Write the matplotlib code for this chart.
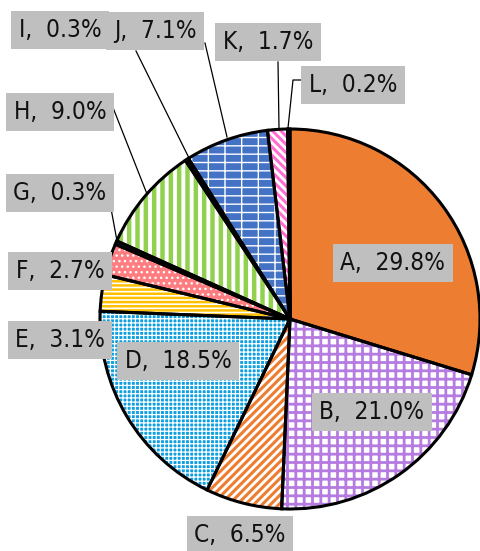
import matplotlib
matplotlib.use("Agg")
import matplotlib.pyplot as plt

# ---- data ----
categories = ["A", "B", "C", "D", "E", "F", "G", "H", "I", "J", "K", "L"]
values = [29.8, 21.0, 6.5, 18.5, 3.1, 2.7, 0.3, 9.0, 0.3, 7.1, 1.7, 0.2]
labels = [f"{c},  {v:.1f}%" for c, v in zip(categories, values)]

# ---- styles ----
faces = ["#ED7D31", "white", "white", "#0E9FE0", "white", "#FF7C80",
         "#0070C0", "white", "#1F1F1F", "#4472C4", "white", "#1F1F1F"]
hatch_cols = ["#ED7D31", "#B57BE0", "#ED7D31", "white", "#FFC000", "white",
              "#0070C0", "#92D050", "#1F1F1F", "white", "#FF6FCF", "#1F1F1F"]
hatches = [None, "++", "////", "++++", "----", "...", None, "||", None, "--|", "\\\\\\\\", None]
hatch_lw = [1, 2.0, 2.2, 0.9, 1.8, 1, 1, 3.2, 1, 1.0, 2.2, 1]

# label box centres (pixel coords, y downward)
label_pos = [(393, 263), (372, 412), (240, 535), (178, 361), (60, 340), (60, 271),
             (60, 193), (60, 112), (60, 30), (155, 31), (268, 42), (353, 85)]
# leader lines
leaders = {
    "G": [(110, 203), (117, 241)],
    "H": [(110, 100), (147, 194)],
    "I": [(136, 51), (189, 158)],
    "J": [(205, 43), (227, 137)],
    "K": [(278, 62), (279, 128)],
    "L": [(303, 80), (293, 80), (288, 128)],
}

W, H = 480, 551
fig = plt.figure(figsize=(W / 100, H / 100), dpi=100)
ax = fig.add_axes([0, 0, 1, 1])

cx, cy, R = 290, 319, 190

# y axis is inverted below, so start at -90 and go "counterclockwise" in data
# coordinates, which is clockwise from 12 o'clock on screen.
wedges, _ = ax.pie(values, startangle=-90, counterclock=True,
                   center=(cx, cy), radius=R, frame=True,
                   wedgeprops=dict(linewidth=0))
for w, fc, hc, ht, hl in zip(wedges, faces, hatch_cols, hatches, hatch_lw):
    w.set_facecolor(fc)
    w.set_edgecolor(hc)
    if ht:
        w.set_hatch(ht)
        try:
            w.set_hatch_linewidth(hl)
        except Exception:
            pass

# outline layer
wedges2, _ = ax.pie(values, startangle=-90, counterclock=True,
                    center=(cx, cy), radius=R, frame=True,
                    wedgeprops=dict(linewidth=2.2, edgecolor="black", facecolor="none"))

ax.set_xlim(0, W)
ax.set_ylim(H, 0)
ax.set_aspect("auto")
ax.axis("off")

# leader lines
for key, pts in leaders.items():
    xs = [p[0] for p in pts]
    ys = [p[1] for p in pts]
    ax.plot(xs, ys, color="black", lw=0.9, zorder=5)

for lab, (x, y) in zip(labels, label_pos):
    ax.text(x, y, lab, ha="center", va="center", fontsize=17.5, family="DejaVu Sans",
            fontstretch="condensed", color="#111111", zorder=6,
            bbox=dict(boxstyle="square,pad=0.3", facecolor="#BFBFBF", edgecolor="none"))

fig.savefig("out.png", dpi=100)
